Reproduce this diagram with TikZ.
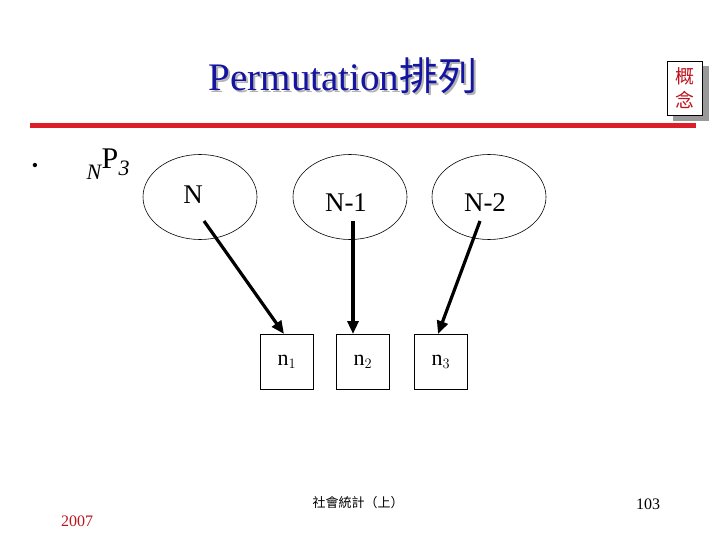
\documentclass[tikz,border=0pt]{standalone}
\usepackage{fontspec}
\setmainfont{Liberation Serif}
\newfontfamily\cjk{Noto Sans CJK TC}
\usetikzlibrary{arrows.meta,shapes.geometric}
\definecolor{titleblue}{RGB}{20,20,160}
\definecolor{slidered}{RGB}{220,30,40}
\definecolor{darkred}{RGB}{190,20,30}
\newcommand{\titletext}{Permutation{\cjk 排列}}
\tikzset{
  oval/.style={draw,ellipse,minimum width=114pt,minimum height=85pt,inner sep=0pt,line width=0.6pt},
  slot/.style={draw,minimum width=53pt,minimum height=55pt,inner sep=0pt,line width=0.6pt,font=\fontsize{22}{24}\selectfont},
  pick/.style={line width=3.2pt,-{Triangle[length=13pt,width=11pt]}},
  ovaltext/.style={font=\fontsize{27}{30}\selectfont,inner sep=0pt}
}
\begin{document}
\begin{tikzpicture}[x=1pt,y=-1pt]
\useasboundingbox (0,0) rectangle (720,540);
\fill[white] (0,0) rectangle (720,540);
% title with shadow
\node[text=titleblue,font=\fontsize{39}{41}\selectfont] (title) at (343,77)
  {\makebox[0pt][l]{\hspace{2pt}\raisebox{-2pt}{\textcolor{black!30}{\titletext}}}\titletext};
% red rule
\coordinate (rl) at (30,126);
\coordinate (rr) at (696,126);
\draw[slidered,line width=5pt] (rl) -- (rr);
% concept box
\fill[black!40] (673,66) rectangle (709,121);
\node[draw,fill=white,minimum width=35pt,minimum height=54pt,inner sep=0pt,line width=0.6pt,
      text=darkred,font=\cjk\fontsize{19}{24}\selectfont,align=center] (concept) at (685,88) {概\\念};
% bullet line
\node[font=\fontsize{18}{20}\selectfont] (bul) at (35,167) {•};
\node[font=\itshape\fontsize{22}{24}\selectfont,inner sep=0pt] (nsub) at (94,172) {N};
\node[font=\fontsize{30}{32}\selectfont,inner sep=0pt] (P) at (110,159) {P};
\node[font=\itshape\fontsize{22}{24}\selectfont,inner sep=0pt] (three) at (124,168) {3};
% ellipses
\node[oval] (e1) at (200,197) {};
\node[oval] (e2) at (350,197) {};
\node[oval] (e3) at (489,197) {};
\node[ovaltext] (t1) at (193,195) {N};
\node[ovaltext] (t2) at (346,203) {N-1};
\node[ovaltext] (t3) at (485,203) {N-2};
% slots
\node[slot] (b1) at (287,362) {n$_1$};
\node[slot] (b2) at (363,362) {n$_2$};
\node[slot] (b3) at (441,362) {n$_3$};
% arrows
\coordinate (s1) at (204,221);
\coordinate (s2) at (353,221);
\coordinate (s3) at (480,221);
\coordinate (f1) at (284,334);
\coordinate (f2) at (353,334);
\coordinate (f3) at (438,334);
\draw[pick] (s1) -- (f1);
\draw[pick] (s2) -- (f2);
\draw[pick] (s3) -- (f3);
% footer
\node[font=\cjk\fontsize{13}{15}\selectfont] (foot) at (358,503) {社會統計（上）};
\node[text=darkred,font=\fontsize{16}{18}\selectfont] (year) at (77,521) {2007};
\node[font=\fontsize{16}{18}\selectfont] (page) at (648,504) {103};
\end{tikzpicture}
\end{document}
